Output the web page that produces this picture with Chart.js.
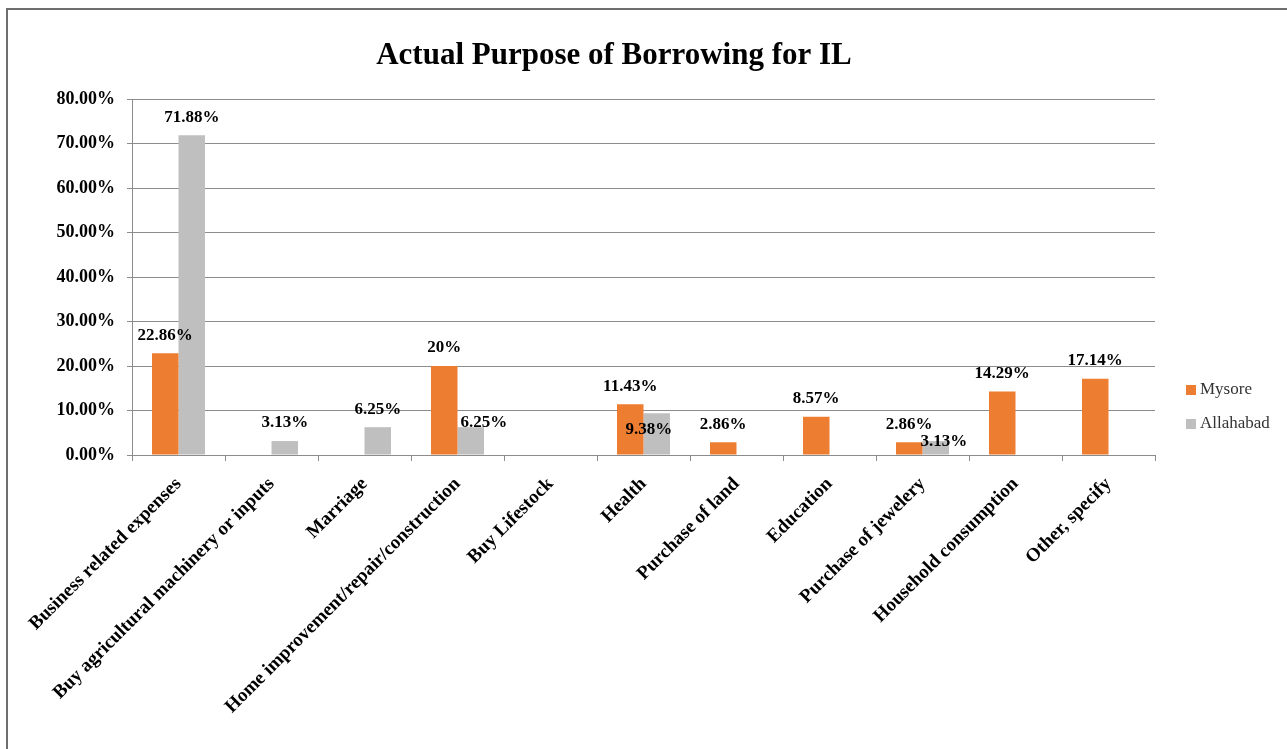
<!DOCTYPE html>
<html>
<head>
<meta charset="utf-8">
<script src="https://cdn.jsdelivr.net/npm/chart.js@4.4.1/dist/chart.umd.min.js"></script>
<style>
  html, body { margin: 0; padding: 0; background: #fff; }
  #wrap { position: relative; width: 1287px; height: 749px; overflow: hidden; }
  #frame { position: absolute; left: 6px; top: 8px; width: 1300px; height: 800px;
           border-top: 2px solid #6e6e6e; border-left: 2px solid #6e6e6e; }
  canvas { position: absolute; left: 0; top: 0; }
</style>
</head>
<body>
<div id="wrap">
  <div id="frame"></div>
  <canvas id="c" width="1287" height="749"></canvas>
</div>
<script>
const categories = [
  "Business related expenses",
  "Buy agricultural machinery or inputs",
  "Marriage",
  "Home improvement/repair/construction",
  "Buy Lifestock",
  "Health",
  "Purchase of land",
  "Education",
  "Purchase of jewelery",
  "Household consumption",
  "Other, specify"
];
const mysore    = [22.86, null, null, 20, null, 11.43, 2.86, 8.57, 2.86, 14.29, 17.14];
const allahabad = [71.88, 3.13, 6.25, 6.25, null, 9.38, null, null, 3.13, null, null];
const yTicks = [0, 10, 20, 30, 40, 50, 60, 70, 80];
const seriesNames = ["Mysore", "Allahabad"];
const seriesColors = ["#ED7D31", "#BFBFBF"];
const chartTitle = "Actual Purpose of Borrowing for IL";

// label placement adjustments (dataset index -> category index -> [dx, dy])
const labelAdjust = { 1: { 3: [13, 13], 5: [-8, 34], 8: [8, 19] } };

const SERIF = "'Liberation Serif', 'DejaVu Serif', serif";

const titlePlugin = {
  id: 'titlePlugin',
  afterDraw(chart) {
    const ctx = chart.ctx;
    ctx.save();
    ctx.font = "bold 31px " + SERIF;
    ctx.fillStyle = "#000";
    ctx.textAlign = "center";
    ctx.textBaseline = "middle";
    ctx.fillText(chartTitle, 614, 56);
    ctx.restore();
  }
};

const dataLabels = {
  id: 'dataLabels',
  afterDatasetsDraw(chart) {
    const ctx = chart.ctx;
    ctx.save();
    ctx.font = "bold 17px " + SERIF;
    ctx.fillStyle = "#000";
    ctx.textAlign = "center";
    ctx.textBaseline = "middle";
    chart.data.datasets.forEach((ds, di) => {
      const meta = chart.getDatasetMeta(di);
      meta.data.forEach((bar, i) => {
        const v = ds.data[i];
        if (v === null || v === undefined) return;
        const txt = (v % 1 === 0 ? String(v) : v.toFixed(2)) + "%";
        const adj = (labelAdjust[di] && labelAdjust[di][i]) || [0, 0];
        ctx.fillText(txt, bar.x + adj[0], bar.y - 18 + adj[1]);
      });
    });
    ctx.restore();
  }
};

const sideLegend = {
  id: 'sideLegend',
  afterDraw(chart) {
    const ctx = chart.ctx;
    ctx.save();
    ctx.font = "17px " + SERIF;
    ctx.textBaseline = "middle";
    ctx.textAlign = "left";
    chart.data.datasets.forEach((ds, di) => {
      const cy = 390 + di * 34;
      ctx.fillStyle = ds.backgroundColor;
      ctx.fillRect(1186, cy - 5, 10, 10);
      ctx.fillStyle = "#333";
      ctx.fillText(ds.label, 1200, cy);
    });
    ctx.restore();
  }
};

new Chart(document.getElementById('c'), {
  type: 'bar',
  data: {
    labels: categories,
    datasets: [
      { label: seriesNames[0], data: mysore, backgroundColor: seriesColors[0] },
      { label: seriesNames[1], data: allahabad, backgroundColor: seriesColors[1] }
    ]
  },
  options: {
    responsive: false,
    animation: false,
    devicePixelRatio: 1,
    categoryPercentage: 0.57,
    barPercentage: 1.0,
    layout: { padding: { left: 0, right: 132, top: 99, bottom: 0 } },
    plugins: {
      legend: { display: false },
      tooltip: { enabled: false },
      title: { display: false }
    },
    scales: {
      x: {
        offset: true,
        grid: { display: true, drawOnChartArea: false, drawTicks: true, tickLength: 6, color: "#8c8c8c", offset: true },
        border: { display: true, color: "#8c8c8c" },
        ticks: {
          color: "#000",
          font: { family: SERIF, size: 19, weight: 'bold' },
          maxRotation: 45, minRotation: 45, autoSkip: false, padding: 12
        },
        afterFit(scale) { scale.height = 294; }
      },
      y: {
        min: 0, max: 80,
        afterBuildTicks(scale) { scale.ticks = yTicks.map(v => ({ value: v })); },
        grid: { color: "#8c8c8c", tickLength: 5, drawTicks: true },
        border: { display: true, color: "#8c8c8c" },
        ticks: {
          color: "#000",
          font: { family: SERIF, size: 18, weight: 'bold' },
          padding: 12,
          callback: v => v.toFixed(2) + "%"
        },
        afterFit(scale) { scale.width = 132; }
      }
    }
  },
  plugins: [titlePlugin, dataLabels, sideLegend]
});
</script>
</body>
</html>
